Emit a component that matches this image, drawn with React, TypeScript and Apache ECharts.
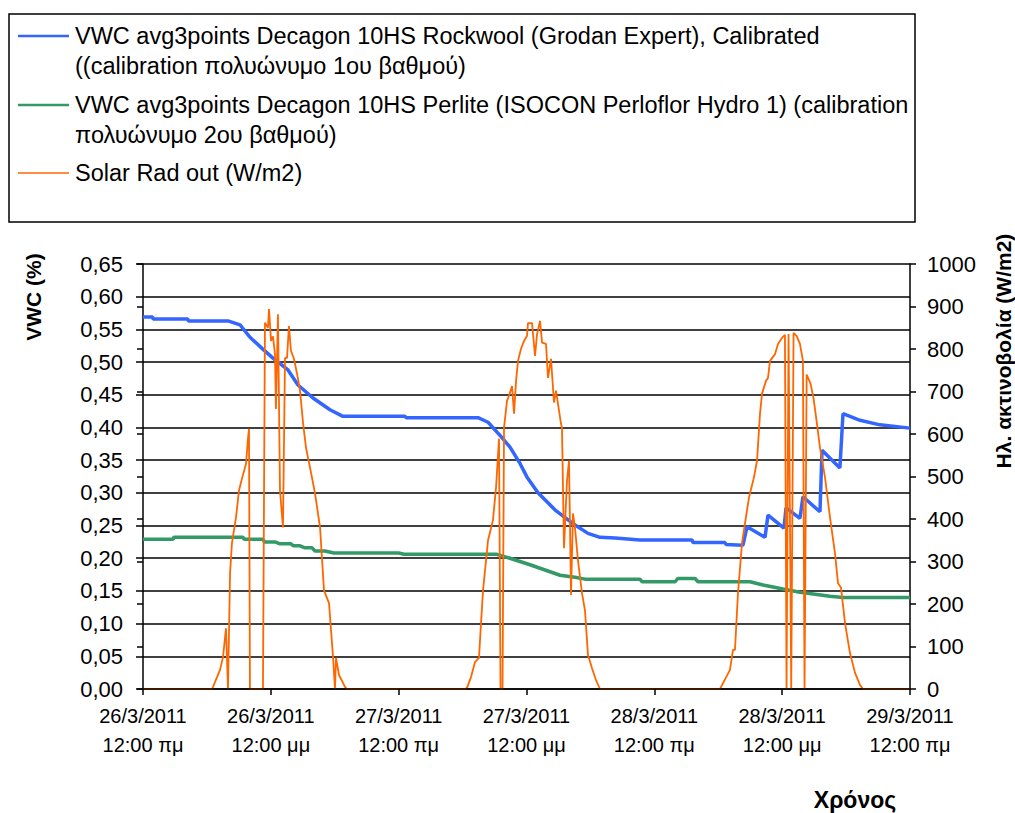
import React, { useEffect, useRef } from "react";
import * as echarts from "echarts";

// Hours since 26/3/2011 00:00
const xTickLabels = [
  "26/3/2011\n12:00 πμ",
  "26/3/2011\n12:00 μμ",
  "27/3/2011\n12:00 πμ",
  "27/3/2011\n12:00 μμ",
  "28/3/2011\n12:00 πμ",
  "28/3/2011\n12:00 μμ",
  "29/3/2011\n12:00 πμ",
];

const seriesNames = [
  "VWC avg3points Decagon 10HS Rockwool (Grodan Expert), Calibrated\n((calibration πολυώνυμο 1ου βαθμού)",
  "VWC avg3points Decagon 10HS Perlite (ISOCON Perloflor Hydro 1) (calibration\nπολυώνυμο 2ου βαθμού)",
  "Solar Rad out (W/m2)",
];

const rockwoolVwc: [number, number][] = [
  [0, 0.569], [0.9, 0.569], [0.95, 0.566], [4.2, 0.566], [4.25, 0.563], [7.98, 0.563],
  [9.11, 0.557], [10.04, 0.538], [11.17, 0.521], [12.2, 0.506], [13.61, 0.488],
  [14.55, 0.465], [15.96, 0.445], [17.55, 0.427], [18.77, 0.417], [24.59, 0.417],
  [24.7, 0.415], [31.45, 0.415], [32.39, 0.408], [33.51, 0.388], [34.45, 0.37],
  [35.39, 0.345], [36.05, 0.324], [37.08, 0.3], [38.67, 0.274], [40.27, 0.254],
  [41.77, 0.238], [42.9, 0.232], [44.31, 0.231], [46.65, 0.228], [51.54, 0.228],
  [51.63, 0.224], [54.63, 0.224], [54.73, 0.221], [56.32, 0.22], [56.7, 0.248],
  [58.39, 0.232], [58.67, 0.266], [60.17, 0.246], [60.36, 0.277], [61.67, 0.261],
  [61.95, 0.294], [63.55, 0.271], [63.74, 0.365], [65.42, 0.338], [65.71, 0.421],
  [67.31, 0.411], [69.18, 0.404], [72, 0.399],
];

const perliteVwc: [number, number][] = [
  [0, 0.229], [2.82, 0.229], [2.9, 0.232], [9.39, 0.232], [9.5, 0.229], [11.26, 0.229],
  [11.4, 0.225], [12.39, 0.225], [12.86, 0.222], [13.89, 0.222], [14.1, 0.219],
  [14.74, 0.219], [15.2, 0.216], [15.86, 0.216], [16.15, 0.211], [17.08, 0.211],
  [17.93, 0.208], [24, 0.208], [24.5, 0.206], [33.23, 0.206], [34.45, 0.2],
  [36.33, 0.19], [37.74, 0.182], [39.15, 0.174], [40.55, 0.171], [41.49, 0.168],
  [46.65, 0.168], [46.84, 0.164], [49.95, 0.164], [50.2, 0.169], [51.82, 0.169],
  [52.1, 0.164], [56.98, 0.164], [58.2, 0.159], [60.08, 0.153], [61.67, 0.148],
  [63.08, 0.145], [64.49, 0.142], [65.71, 0.14], [72, 0.14],
];

const solarRad: [number, number][] = [
  [0, 0], [6.48, 0], [6.57, 5], [7.23, 45], [7.51, 75], [7.79, 143], [7.98, 0],
  [8.17, 272], [8.35, 343], [8.73, 404], [9.01, 467], [9.29, 495], [9.67, 530],
  [9.86, 591], [9.95, 612], [10.04, 0], [11.26, 0], [11.45, 862], [11.73, 850],
  [11.83, 894], [12.02, 819], [12.2, 830], [12.39, 788], [12.48, 659], [12.67, 882],
  [12.86, 467], [13.14, 380], [13.33, 779], [13.52, 779], [13.7, 854], [13.89, 796],
  [14.17, 777], [14.46, 742], [14.74, 702], [15.02, 627], [15.3, 568], [15.68, 521],
  [16.15, 460], [16.62, 380], [16.99, 232], [17.46, 202], [17.84, 75], [18.02, 0],
  [18.12, 73], [18.4, 33], [18.96, 5], [19.15, 0],
  [30.3, 0], [30.45, 5], [30.79, 28], [31.16, 63], [31.54, 73], [31.73, 155],
  [31.92, 232], [32.39, 350], [32.85, 397], [33.14, 474], [33.42, 589], [33.56, 0],
  [33.75, 0], [33.89, 615], [34.17, 678], [34.36, 690], [34.64, 713], [34.83, 648],
  [35.02, 725], [35.2, 772], [35.48, 800], [35.77, 819], [36.05, 831], [36.14, 861],
  [36.52, 861], [36.8, 784], [36.99, 835], [37.27, 866], [37.46, 815], [37.83, 812],
  [38.02, 732], [38.3, 777], [38.58, 674], [38.77, 702], [39.24, 624], [39.33, 615],
  [39.52, 331], [39.8, 490], [39.99, 537], [40.18, 221], [40.36, 413], [40.55, 380],
  [40.83, 303], [41.21, 225], [41.49, 185], [41.77, 80], [42.15, 49], [42.52, 21],
  [42.9, 0],
  [54.16, 0], [54.35, 9], [55.1, 45], [55.38, 92], [55.57, 92], [55.85, 225],
  [56.23, 343], [56.51, 390], [56.89, 451], [57.35, 498], [57.64, 537], [57.92, 648],
  [58.11, 695], [58.48, 725], [58.67, 732], [58.86, 772], [59.33, 788], [59.61, 812],
  [59.98, 826], [60.26, 833], [60.41, 0], [60.6, 835], [60.85, 0], [61.07, 838],
  [61.35, 831], [61.67, 812], [61.95, 772], [62.1, 0], [62.3, 740], [62.67, 718],
  [62.95, 683], [63.23, 631], [63.55, 568], [64.02, 498], [64.49, 404], [64.96, 319],
  [65.24, 249], [65.52, 239], [65.9, 155], [66.37, 84], [66.84, 38], [67.31, 9],
  [67.6, 0], [72, 0],
];

const colors = ["#3366ff", "#339966", "#ff6600"];
const FAMILY = "Liberation Sans";

export default function App() {
  const ref = useRef<HTMLDivElement>(null);
  useEffect(() => {
    if (!ref.current) return;
    const chart = echarts.init(ref.current, undefined, { renderer: "svg" });

    const legendRows = [
      { y: 36, color: colors[0], width: 2.5 },
      { y: 105, color: colors[1], width: 2.5 },
      { y: 173, color: colors[2], width: 1.5 },
    ];
    const legendGraphics: any[] = [
      {
        type: "rect",
        shape: { x: 9, y: 14, width: 906, height: 208 },
        style: { fill: "#fff", stroke: "#000", lineWidth: 1.5 },
      },
    ];
    legendRows.forEach((r, i) => {
      legendGraphics.push({
        type: "line",
        shape: { x1: 18, y1: r.y, x2: 69, y2: r.y },
        style: { stroke: r.color, lineWidth: r.width },
      });
      legendGraphics.push({
        type: "text",
        x: 75,
        y: r.y - 15,
        style: {
          text: seriesNames[i],
          fontFamily: FAMILY,
          fontSize: 23.5,
          fill: "#000",
          lineHeight: 30,
          verticalAlign: "top",
        },
      });
    });

    const axisFont = { fontFamily: FAMILY, fontSize: 22, color: "#000" };
    const gridBox = { left: 143, right: 105, top: 264, bottom: 124 };

    chart.setOption({
      animation: false,
      backgroundColor: "#fff",
      textStyle: { fontFamily: FAMILY },
      grid: [gridBox, gridBox],
      legend: { show: false },
      xAxis: [
        {
          type: "value",
          gridIndex: 0,
          min: 0,
          max: 72,
          interval: 12,
          z: 10,
          axisLine: { lineStyle: { color: "#000", width: 1.5 } },
          axisTick: { length: 6, lineStyle: { color: "#000", width: 1.5 } },
          splitLine: { show: false },
          axisLabel: {
            ...axisFont,
            fontSize: 20,
            lineHeight: 29,
            margin: 12,
            formatter: (v: number) => xTickLabels[Math.round(v / 12)] ?? "",
          },
        },
        {
          type: "value",
          gridIndex: 1,
          min: 0,
          max: 72,
          show: false,
        },
      ],
      yAxis: [
        {
          type: "value",
          gridIndex: 0,
          position: "left",
          min: 0,
          max: 0.65,
          interval: 0.05,
          axisLine: { show: true, lineStyle: { color: "#000", width: 1.5 } },
          axisTick: { show: true, length: 7, lineStyle: { color: "#000", width: 1.5 } },
          splitLine: { show: true, lineStyle: { color: "#000", width: 1.5 } },
          axisLabel: {
            ...axisFont,
            margin: 20,
            formatter: (v: number) => v.toFixed(2).replace(".", ","),
          },
        },
        {
          type: "value",
          gridIndex: 0,
          position: "right",
          min: 0,
          max: 1000,
          interval: 100,
          axisLine: { show: true, lineStyle: { color: "#000", width: 1.5 } },
          axisTick: { show: true, length: 6, lineStyle: { color: "#000", width: 1.5 } },
          splitLine: { show: false },
          axisLabel: { ...axisFont, margin: 17, formatter: (v: number) => String(v) },
        },
        {
          type: "value",
          gridIndex: 1,
          position: "right",
          min: 0,
          max: 1000,
          interval: 100,
          axisLine: { show: false },
          axisTick: { show: true, inside: true, length: 6, lineStyle: { color: "#000", width: 1.5 } },
          splitLine: { show: false },
          axisLabel: { show: false },
        },
      ],
      series: [
        {
          name: seriesNames[0],
          type: "line",
          xAxisIndex: 0,
          yAxisIndex: 0,
          data: rockwoolVwc,
          showSymbol: false,
          symbol: "none",
          lineStyle: { color: colors[0], width: 3.5 },
          itemStyle: { color: colors[0] },
        },
        {
          name: seriesNames[1],
          type: "line",
          xAxisIndex: 0,
          yAxisIndex: 0,
          data: perliteVwc,
          showSymbol: false,
          symbol: "none",
          lineStyle: { color: colors[1], width: 3.5 },
          itemStyle: { color: colors[1] },
        },
        {
          name: seriesNames[2],
          type: "line",
          xAxisIndex: 0,
          yAxisIndex: 1,
          data: solarRad,
          showSymbol: false,
          symbol: "none",
          lineStyle: { color: colors[2], width: 1.8 },
          itemStyle: { color: colors[2] },
        },
      ],
      graphic: [
        ...legendGraphics,
        {
          type: "text",
          x: 33,
          y: 297,
          rotation: Math.PI / 2,
          style: {
            text: "VWC (%)",
            fontFamily: FAMILY,
            fontWeight: "bold",
            fontSize: 21,
            fill: "#000",
            align: "center",
            verticalAlign: "middle",
          },
        },
        {
          type: "text",
          x: 1003,
          y: 351,
          rotation: Math.PI / 2,
          style: {
            text: "Ηλ. ακτινοβολία (W/m2)",
            fontFamily: FAMILY,
            fontWeight: "bold",
            fontSize: 21,
            fill: "#000",
            align: "center",
            verticalAlign: "middle",
          },
        },
        {
          type: "text",
          x: 855,
          y: 788,
          style: {
            text: "Χρόνος",
            fontFamily: FAMILY,
            fontWeight: "bold",
            fontSize: 23,
            fill: "#000",
            align: "center",
            verticalAlign: "top",
          },
        },
      ],
    });
    return () => chart.dispose();
  }, []);
  return (
    <div
      ref={ref}
      style={{ position: "fixed", left: 0, top: 0, width: 1015, height: 813 }}
    />
  );
}
